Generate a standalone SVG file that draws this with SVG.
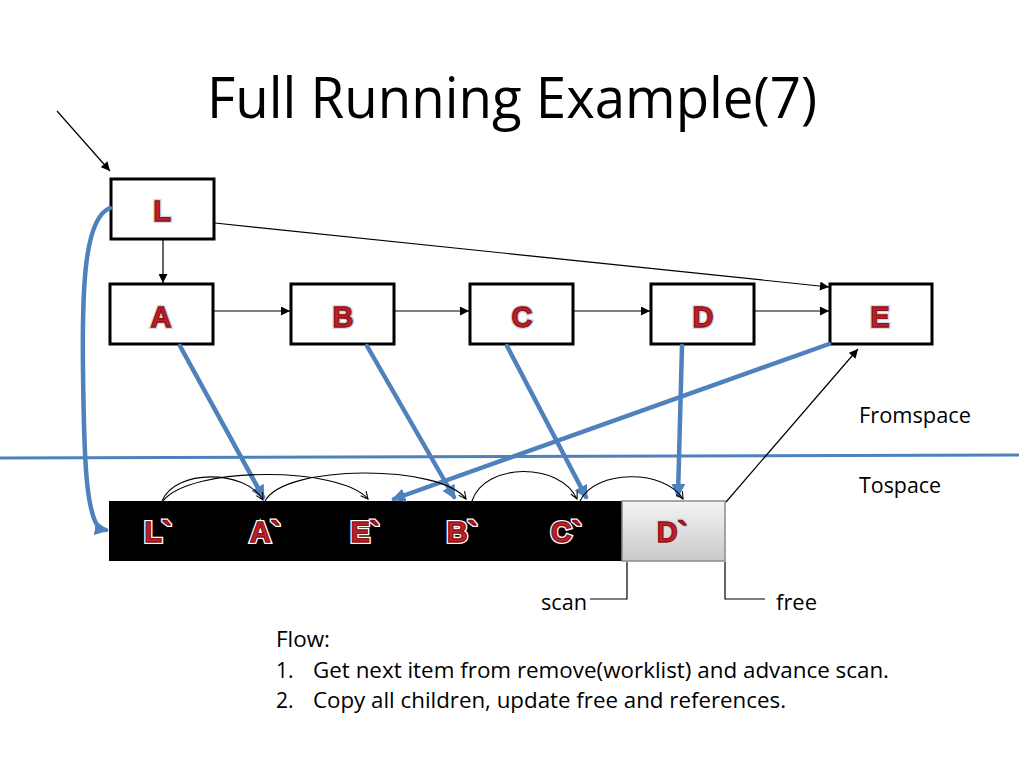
<svg xmlns="http://www.w3.org/2000/svg" width="1024" height="768" viewBox="0 0 1024 768">
<defs>
<style>
.node{fill:#fff;stroke:#000;stroke-width:3}
.lbl{font-family:"Liberation Sans",Arial,sans-serif;font-weight:bold;font-size:29px;fill:#c0202a;stroke:#8e1218;stroke-width:1.3;text-anchor:middle}
.halo{font-family:"Liberation Sans",Arial,sans-serif;font-weight:bold;font-size:29px;fill:#fff;stroke:#d8d8d8;stroke-width:4;text-anchor:middle}
.thalo{font-family:"Liberation Sans",Arial,sans-serif;font-weight:bold;font-size:29px;fill:#fff;stroke:#fff;stroke-width:4;text-anchor:middle}
.thin{fill:none;stroke:#000;stroke-width:1.2}
.blue{fill:none;stroke:#4f81bd;stroke-width:4.5;stroke-linecap:round}
.arc{fill:none;stroke:#000;stroke-width:1.1}
.txt{font-family:"Open Sans","Liberation Sans",sans-serif;font-size:21px;fill:#000}
</style>
<marker id="ab" viewBox="0 0 10 10" refX="10" refY="5" markerWidth="10" markerHeight="9" markerUnits="userSpaceOnUse" orient="auto"><path d="M0,0 L10,5 L0,10 z" fill="#000"/></marker>
<marker id="abl" viewBox="0 0 10 10" refX="8" refY="5" markerWidth="14" markerHeight="14" markerUnits="userSpaceOnUse" orient="auto"><path d="M0,0 L10,5 L0,10 z" fill="#4f81bd"/></marker>
<marker id="ao" viewBox="0 0 10 10" refX="9" refY="5" markerWidth="9" markerHeight="9" markerUnits="userSpaceOnUse" orient="auto"><path d="M1,1 L9,5 L1,9" fill="none" stroke="#000" stroke-width="1.2"/></marker>
<linearGradient id="gD" x1="0" y1="0" x2="0" y2="1"><stop offset="0" stop-color="#f4f4f4"/><stop offset="1" stop-color="#c9c9c9"/></linearGradient>
</defs>
<rect width="1024" height="768" fill="#fff"/>
<text x="207" y="118" font-family="Open Sans,Liberation Sans,sans-serif" font-size="56" textLength="610" lengthAdjust="spacingAndGlyphs">Full Running Example(7)</text>

<g id="divider"><line x1="0" y1="458" x2="1019" y2="455" stroke="#4f81bd" stroke-width="3"/></g>

<g id="tospace">
<rect x="109" y="501" width="513" height="60" fill="#000"/>
<rect id="Dp" x="622" y="501" width="103" height="60" fill="url(#gD)" stroke="#8a8a8a" stroke-width="1.5"/>
<g class="thalo">
<text x="158" y="542">L`</text><text x="265" y="542">A`</text><text x="365" y="542">E`</text><text x="462" y="542">B`</text><text x="566" y="542">C`</text>
</g>
<text class="halo" x="672" y="542">D`</text>
<g class="lbl">
<text x="158" y="542">L`</text><text x="265" y="542">A`</text><text x="365" y="542">E`</text><text x="462" y="542">B`</text><text x="566" y="542">C`</text><text x="672" y="542">D`</text>
</g>
</g>

<g id="L"><rect class="node" x="111" y="179" width="103" height="60"/><text class="halo" x="162" y="221">L</text><text class="lbl" x="162" y="221">L</text></g>
<g id="A"><rect class="node" x="110" y="284" width="103" height="60"/><text class="halo" x="161" y="327">A</text><text class="lbl" x="161" y="327">A</text></g>
<g id="B"><rect class="node" x="291" y="284" width="103" height="60"/><text class="halo" x="343" y="327">B</text><text class="lbl" x="343" y="327">B</text></g>
<g id="C"><rect class="node" x="470" y="284" width="103" height="60"/><text class="halo" x="522" y="327">C</text><text class="lbl" x="522" y="327">C</text></g>
<g id="D"><rect class="node" x="651" y="284" width="103" height="60"/><text class="halo" x="703" y="327">D</text><text class="lbl" x="703" y="327">D</text></g>
<g id="E"><rect class="node" x="830" y="284" width="102" height="60"/><text class="halo" x="880" y="327">E</text><text class="lbl" x="880" y="327">E</text></g>

<g id="connectors">
<line class="thin" x1="57" y1="111" x2="110" y2="171" marker-end="url(#ab)"/>
<line class="thin" x1="163" y1="240" x2="163" y2="283" marker-end="url(#ab)"/>
<line class="thin" x1="214" y1="311" x2="290" y2="311" marker-end="url(#ab)"/>
<line class="thin" x1="395" y1="311" x2="469" y2="311" marker-end="url(#ab)"/>
<line class="thin" x1="574" y1="311" x2="650" y2="311" marker-end="url(#ab)"/>
<line class="thin" x1="755" y1="311" x2="829" y2="311" marker-end="url(#ab)"/>
<line class="thin" x1="215" y1="223" x2="829" y2="287" marker-end="url(#ab)"/>
<line class="thin" x1="726" y1="502" x2="858" y2="349" marker-end="url(#ab)"/>

<path class="blue" d="M110,208 C84,218 82,290 83,370 C84,460 86,515 100,529 L106,530" marker-end="url(#abl)"/>
<line class="blue" x1="180" y1="346" x2="263" y2="497" marker-end="url(#abl)"/>
<line class="blue" x1="367" y1="346" x2="454" y2="497" marker-end="url(#abl)"/>
<line class="blue" x1="507" y1="346" x2="586" y2="497" marker-end="url(#abl)"/>
<line class="blue" x1="682" y1="346" x2="678" y2="495" marker-end="url(#abl)"/>
<line class="blue" x1="829" y1="344" x2="394" y2="499" marker-end="url(#abl)"/>

<path class="arc" d="M162,501 C175,469 245,469 263,500" marker-end="url(#ao)"/>
<path class="arc" d="M163,501 C190,466 340,466 368,499" marker-end="url(#ao)"/>
<path class="arc" d="M265,501 C285,464 440,464 466,499" marker-end="url(#ao)"/>
<path class="arc" d="M472,501 C485,462 560,462 577,499" marker-end="url(#ao)"/>
<path class="arc" d="M580,501 C595,469 665,469 683,499" marker-end="url(#ao)"/>

<polyline class="thin" points="590,599 627,599 627,562"/>
<polyline class="thin" points="725,562 725,599 765,599"/>
</g>

<text class="txt" x="859" y="423" textLength="112" lengthAdjust="spacingAndGlyphs">Fromspace</text>
<text class="txt" x="859" y="493" textLength="82" lengthAdjust="spacingAndGlyphs">Tospace</text>
<text class="txt" x="541" y="610" textLength="46" lengthAdjust="spacingAndGlyphs">scan</text>
<text class="txt" x="776" y="610" textLength="41" lengthAdjust="spacingAndGlyphs">free</text>
<text class="txt" x="276" y="647" textLength="54" lengthAdjust="spacingAndGlyphs">Flow:</text>
<text class="txt" x="276" y="678">1.</text>
<text class="txt" x="313" y="678" textLength="576" lengthAdjust="spacingAndGlyphs">Get next item from remove(worklist) and advance scan.</text>
<text class="txt" x="276" y="708">2.</text>
<text class="txt" x="313" y="708" textLength="473" lengthAdjust="spacingAndGlyphs">Copy all children, update free and references.</text>
</svg>
